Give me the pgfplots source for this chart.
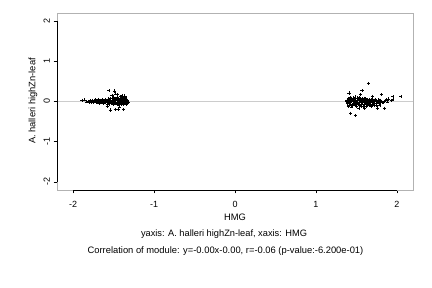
\documentclass[border=0pt]{standalone}
\usepackage{pgfplots}
\pgfplotsset{compat=1.18}
\usepackage{fontspec}
\setmainfont{Liberation Sans}
\pgfplotstableread{
x y
-1.89 0.03
-1.86 0.04
-1.84 -0.01
-1.81 0.00
-1.80 -0.02
-1.79 0.02
-1.78 -0.03
-1.77 0.01
-1.76 0.03
-1.75 -0.02
-1.74 0.00
-1.73 0.04
-1.72 -0.03
-1.71 0.02
-1.70 -0.01
-1.69 0.05
-1.68 -0.04
-1.67 0.01
-1.66 0.03
-1.65 -0.02
-1.64 0.05
-1.63 -0.05
-1.62 0.00
-1.61 0.04
-1.60 -0.03
-1.59 0.02
-1.58 -0.06
-1.57 0.06
-1.56 0.01
-1.55 -0.04
-1.54 0.07
-1.53 -0.02
-1.52 0.03
-1.51 -0.07
-1.50 0.05
-1.49 -0.01
-1.48 0.08
-1.47 -0.05
-1.46 0.02
-1.45 0.06
-1.44 -0.06
-1.43 0.01
-1.42 0.07
-1.41 -0.08
-1.40 0.04
-1.39 -0.03
-1.38 0.08
-1.37 -0.05
-1.36 0.02
-1.35 0.06
-1.34 -0.04
-1.33 0.01
-1.32 -0.02
-1.785 0.00
-1.765 -0.01
-1.745 0.02
-1.725 0.01
-1.705 -0.03
-1.685 0.02
-1.665 -0.02
-1.645 0.01
-1.625 -0.03
-1.605 0.03
-1.585 0.00
-1.565 -0.03
-1.545 0.04
-1.525 -0.05
-1.505 0.01
-1.485 -0.04
-1.465 0.05
-1.445 0.03
-1.425 -0.03
-1.405 0.00
-1.385 -0.06
-1.365 0.05
-1.345 -0.01
-1.335 0.03
-1.60 0.05
-1.58 0.03
-1.56 -0.06
-1.54 -0.03
-1.52 0.07
-1.50 -0.06
-1.48 0.02
-1.46 -0.08
-1.44 0.05
-1.42 -0.02
-1.40 0.09
-1.38 -0.07
-1.36 0.07
-1.34 -0.07
-1.35 0.10
-1.45 0.10
-1.50 0.11
-1.42 0.12
-1.39 0.11
-1.56 0.27
-1.49 0.26
-1.48 0.19
-1.40 0.15
-1.45 0.17
-1.52 0.15
-1.37 0.14
-1.54 -0.21
-1.48 -0.20
-1.44 -0.20
-1.38 -0.20
-1.58 -0.12
-1.43 -0.13
-1.555 0.02
-1.535 -0.01
-1.515 0.04
-1.495 0.03
-1.475 -0.02
-1.455 -0.03
-1.435 0.04
-1.415 0.02
-1.395 0.05
-1.375 0.01
-1.355 -0.04
1.38 0.00
1.39 -0.05
1.40 0.06
1.41 -0.09
1.42 0.03
1.43 -0.03
1.44 0.08
1.45 -0.07
1.46 0.01
1.47 0.05
1.48 -0.10
1.49 0.04
1.50 -0.04
1.51 0.09
1.52 -0.08
1.53 0.02
1.54 -0.02
1.55 0.07
1.56 -0.06
1.57 0.03
1.58 -0.11
1.59 0.05
1.60 -0.03
1.61 0.06
1.62 -0.07
1.63 0.01
1.64 0.04
1.65 -0.05
1.66 0.03
1.67 -0.08
1.68 0.02
1.69 -0.03
1.70 0.05
1.71 -0.06
1.72 0.01
1.73 0.04
1.74 -0.04
1.75 0.02
1.76 -0.02
1.77 0.04
1.78 -0.05
1.79 0.01
1.80 0.03
1.82 -0.02
1.84 0.01
1.86 0.02
1.385 0.04
1.395 -0.02
1.405 0.02
1.415 0.07
1.425 -0.06
1.435 0.00
1.445 -0.10
1.455 0.05
1.465 -0.04
1.475 0.02
1.485 0.08
1.495 -0.07
1.505 0.01
1.515 -0.03
1.525 0.06
1.535 -0.09
1.545 0.04
1.555 -0.01
1.565 -0.08
1.575 0.06
1.585 0.00
1.595 -0.06
1.605 0.02
1.615 -0.02
1.625 0.04
1.635 -0.04
1.645 0.00
1.655 -0.09
1.665 0.05
1.675 -0.01
1.685 0.04
1.695 -0.06
1.705 0.00
1.715 0.03
1.725 -0.04
1.745 0.01
1.765 -0.03
1.785 0.03
1.81 0.00
1.83 -0.03
1.40 -0.12
1.42 0.10
1.44 -0.13
1.46 0.09
1.48 0.11
1.50 -0.12
1.52 0.04
1.54 0.10
1.56 -0.12
1.60 0.08
1.62 -0.11
1.64 -0.10
1.68 -0.11
1.72 -0.10
1.75 -0.09
1.79 -0.10
1.87 0.04
1.88 -0.01
1.89 0.06
1.65 0.45
1.57 0.27
1.55 0.17
1.41 0.21
1.81 0.17
1.95 0.12
2.05 0.12
1.93 0.02
1.95 0.05
1.43 -0.29
1.49 -0.35
1.85 -0.17
1.76 -0.16
1.60 -0.16
1.53 -0.17
1.70 0.13
1.39 0.02
1.41 -0.02
1.43 0.05
1.45 0.03
1.47 -0.06
1.49 -0.02
1.51 0.02
1.53 -0.05
1.55 0.02
1.57 -0.03
1.59 0.00
1.61 -0.01
1.63 -0.05
}\pts
\begin{document}
\begin{tikzpicture}[x=1bp,y=1bp]
\useasboundingbox (0,0) rectangle (432,288);
\begin{axis}[
  at={(57bp,98bp)}, anchor=south west,
  scale only axis, width=356bp, height=177bp,
  xmin=-2.2, xmax=2.2, ymin=-2.2, ymax=2.2,
  xtick={-2,-1,0,1,2}, ytick={-2,-1,0,1,2},
  tick align=outside, tick pos=left,
  major tick length=3.5bp,
  tick style={black, line width=0.5pt},
  axis line style={draw=gray!60, line width=0.6pt},
  /pgf/number format/assume math mode=true,
  ticklabel style={font=\fontsize{9}{10}\selectfont},
  xticklabel style={yshift=-4bp},
  yticklabel style={rotate=90, anchor=south},
  clip=false,
]
\addplot[gray!40, line width=0.6pt, forget plot] coordinates {(-2.2,0) (2.2,0)};
\addplot[only marks, mark=+, mark size=1.6pt, mark options={line width=0.45pt, black}] table[x=x,y=y] {\pts};
\draw[black, line width=0.6pt] (axis cs:-2.2,-2) -- (axis cs:-2.2,2);
\draw[black, line width=0.6pt] (axis cs:-2,-2.2) -- (axis cs:2,-2.2);
\end{axis}
\node[rotate=90, font=\fontsize{9.4}{10}\selectfont] at (33,187) {A. halleri highZn-leaf};
\node[font=\fontsize{9.4}{10}\selectfont] at (235,71) {HMG};
\node[font=\fontsize{9.3}{10}\selectfont] at (224,54) {yaxis: A. halleri highZn-leaf, xaxis: HMG};
\node[font=\fontsize{9.4}{10}\selectfont] at (225.5,37) {Correlation of module: y=-0.00x-0.00, r=-0.06 (p-value:-6.200e-01)};
\end{tikzpicture}
\end{document}
